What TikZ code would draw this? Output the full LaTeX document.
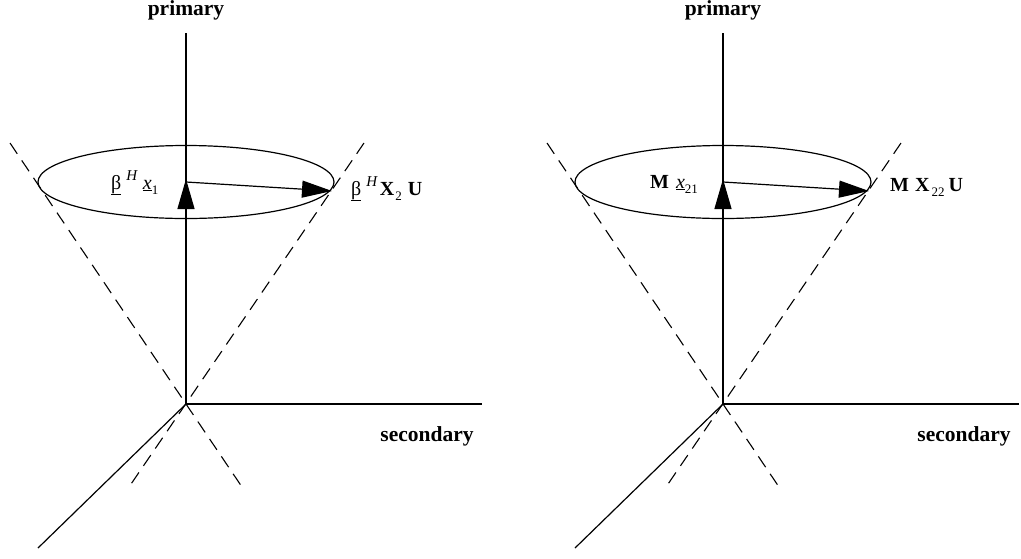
\documentclass[tikz,border=0pt]{standalone}
\usepackage{fontspec}
\setmainfont{Liberation Serif}
\usetikzlibrary{arrows.meta}

\newcommand{\up}[1]{\raisebox{0.42em}{\fontsize{15}{15}\selectfont\textit{#1}}}
\newcommand{\dn}[1]{\raisebox{-0.28em}{\fontsize{13}{13}\selectfont #1}}

\begin{document}
\begin{tikzpicture}[
  x=1pt, y=-1pt,
  axis/.style={line width=1.2pt},
  cone/.style={line width=1.1pt, dash pattern=on 13pt off 8pt},
  vec/.style={line width=1.2pt, -{Triangle[length=30pt,width=17pt]}},
  axislabel/.style={font=\fontsize{21.5}{24}\selectfont\bfseries, inner sep=0pt, anchor=base},
  term/.style={font=\fontsize{20}{22}\selectfont, inner sep=0pt, anchor=base west}
]
\useasboundingbox (0,0) rectangle (1021,558);

% left panel
\coordinate (lo) at (186,404);
\coordinate (ltop) at (186,33);
\coordinate (lright) at (482,404);
\coordinate (ldiag) at (38,548);
\coordinate (lc) at (186,182);
\coordinate (lup) at (186,179);
\coordinate (lrim) at (332,191);
\node[axislabel] (lprim) at (186,15) {primary};
\node[axislabel] (lsec) at (427,441) {secondary};

\draw[axis] (lo) -- (ltop);
\draw[axis] (lo) -- (lright);
\draw[axis] (lo) -- (ldiag);
\draw[axis] (lc) ellipse [x radius=148pt, y radius=36.5pt];
\draw[cone] (10,143) coordinate (lct1) -- (242,487) coordinate (lcb1);
\draw[cone] (364,143) coordinate (lct2) -- (129,487) coordinate (lcb2);
\draw[vec] (lo) -- (lup);
\draw[vec] (lc) -- (lrim);
\node[term] (lin) at (111,189) {\underline{β}\hspace{5pt}\up{H}\hspace{5pt}\underline{\textit{x}}\dn{1}};
\node[term] (lout) at (351,195) {\underline{β}\hspace{5pt}\up{H}\hspace{2pt}\textbf{X}\hspace{1pt}\dn{2}\hspace{6pt}\textbf{U}};

% right panel
\coordinate (ro) at (723,404);
\coordinate (rtop) at (723,33);
\coordinate (rright) at (1019,404);
\coordinate (rdiag) at (575,548);
\coordinate (rc) at (723,182);
\coordinate (rup) at (723,179);
\coordinate (rrim) at (869,191);
\node[axislabel] (rprim) at (723,15) {primary};
\node[axislabel] (rsec) at (964,441) {secondary};

\draw[axis] (ro) -- (rtop);
\draw[axis] (ro) -- (rright);
\draw[axis] (ro) -- (rdiag);
\draw[axis] (rc) ellipse [x radius=148pt, y radius=36.5pt];
\draw[cone] (547,143) coordinate (rct1) -- (779,487) coordinate (rcb1);
\draw[cone] (901,143) coordinate (rct2) -- (666,487) coordinate (rcb2);
\draw[vec] (ro) -- (rup);
\draw[vec] (rc) -- (rrim);
\node[term] (rin) at (650,188) {\textbf{M}\hspace{7pt}\underline{\textit{x}}\dn{21}};
\node[term] (rout) at (890,191) {\textbf{M}\hspace{6pt}\textbf{X}\hspace{2pt}\dn{22}\hspace{4pt}\textbf{U}};
\end{tikzpicture}
\end{document}
